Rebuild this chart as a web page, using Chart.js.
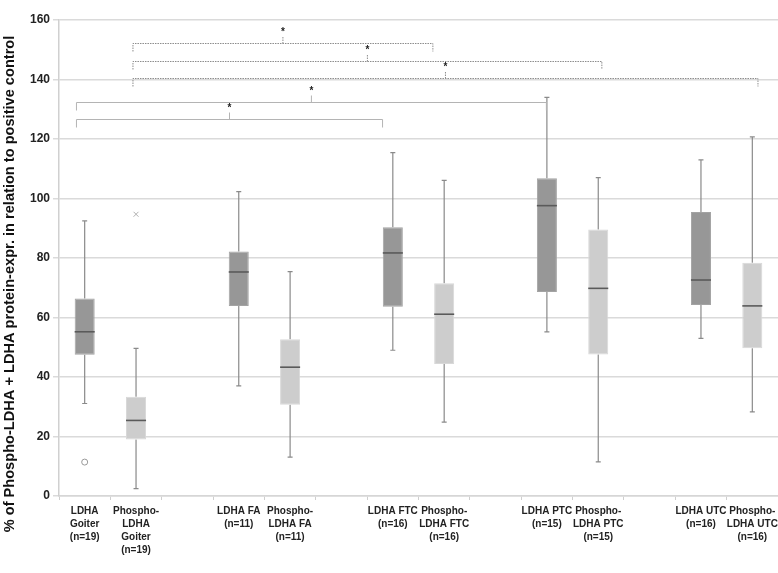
<!DOCTYPE html>
<html>
<head>
<meta charset="utf-8">
<script src="https://cdn.jsdelivr.net/npm/chart.js@4.4.1/dist/chart.umd.min.js"></script>
<style>
  html, body { margin: 0; padding: 0; background: #ffffff; }
  #wrap { width: 778px; height: 573px; }
</style>
</head>
<body>
<div id="wrap"><canvas id="c" width="778" height="573"></canvas></div>
<script>
// ---- data ----
const categories = [
  ["LDHA", "Goiter", "(n=19)"],
  ["Phospho-", "LDHA", "Goiter", "(n=19)"],
  "",
  ["LDHA FA", "(n=11)"],
  ["Phospho-", "LDHA FA", "(n=11)"],
  "",
  ["LDHA FTC", "(n=16)"],
  ["Phospho-", "LDHA FTC", "(n=16)"],
  "",
  ["LDHA PTC", "(n=15)"],
  ["Phospho-", "LDHA PTC", "(n=15)"],
  "",
  ["LDHA UTC", "(n=16)"],
  ["Phospho-", "LDHA UTC", "(n=16)"]
];
const isPhospho   = [false, true, null, false, true, null, false, true, null, false, true, null, false, true];
const whiskerLow  = [31.1, 2.5, null, 37.0, 13.1, null, 49.0, 24.8, null, 55.2, 11.5, null, 53.0, 28.3];
const q1          = [47.5, 19.0, null, 63.9, 30.7, null, 63.6, 44.4, null, 68.6, 47.6, null, 64.2, 49.7];
const median      = [55.2, 25.4, null, 75.3, 43.3, null, 81.7, 61.1, null, 97.6, 69.8, null, 72.6, 63.9];
const q3          = [66.4, 33.4, null, 82.2, 52.7, null, 90.3, 71.5, null, 106.8, 89.6, null, 95.5, 78.4];
const whiskerHigh = [92.5, 49.6, null, 102.3, 75.4, null, 115.4, 106.1, null, 134.0, 107.0, null, 113.0, 120.7];
const outlierCircle = [11.4, null, null, null, null, null, null, null, null, null, null, null, null, null];
const outlierCross  = [null, 94.7, null, null, null, null, null, null, null, null, null, null, null, null];
const yTicks = [0, 20, 40, 60, 80, 100, 120, 140, 160];
const yTitle = "% of Phospho-LDHA + LDHA protein-expr. in relation to positive control";

// significance brackets (category index from/to, y value)
const bracketFrom   = [0.94, 0.94, 0.94, -0.16, -0.16];
const bracketTo     = [6.78, 10.07, 13.11, 8.99, 5.80];
const bracketY      = [152.4, 146.3, 140.4, 132.3, 126.7];
const bracketDotted = [true, true, true, false, false];
const bracketLabel  = ["*", "*", "*", "*", "*"];

// ---- styles ----
const DARK = '#979797', LIGHT = '#cdcdcd';
const FONT = "'Liberation Sans', Arial, sans-serif";

const boxes = q1.map((v, i) => v == null ? null : [v, q3[i]]);

const boxPlugin = {
  id: 'boxparts',
  beforeDatasetsDraw(chart) {
    const ctx = chart.ctx, y = chart.scales.y;
    const meta = chart.getDatasetMeta(0);
    ctx.save();
    ctx.strokeStyle = '#8a8a8a';
    ctx.lineWidth = 1.2;
    meta.data.forEach((el, i) => {
      if (q1[i] == null) return;
      const x = el.x;
      const yl = y.getPixelForValue(whiskerLow[i]);
      const yh = y.getPixelForValue(whiskerHigh[i]);
      const y1 = y.getPixelForValue(q1[i]);
      const y3 = y.getPixelForValue(q3[i]);
      ctx.beginPath();
      ctx.moveTo(x, y3); ctx.lineTo(x, yh);
      ctx.moveTo(x, y1); ctx.lineTo(x, yl);
      ctx.moveTo(x - 2.5, yh); ctx.lineTo(x + 2.5, yh);
      ctx.moveTo(x - 2.5, yl); ctx.lineTo(x + 2.5, yl);
      ctx.stroke();
    });
    ctx.restore();
  },
  afterDatasetsDraw(chart) {
    const ctx = chart.ctx, y = chart.scales.y, x = chart.scales.x;
    const meta = chart.getDatasetMeta(0);
    ctx.save();
    ctx.strokeStyle = '#5a5a5a';
    ctx.lineWidth = 1.6;
    meta.data.forEach((el, i) => {
      if (median[i] == null) return;
      const ym = y.getPixelForValue(median[i]);
      const hw = el.width / 2;
      ctx.beginPath();
      ctx.moveTo(el.x - hw, ym); ctx.lineTo(el.x + hw, ym);
      ctx.stroke();
    });
    // brackets
    for (let b = 0; b < bracketY.length; b++) {
      const xa = x.getPixelForValue(bracketFrom[b]);
      const xb = x.getPixelForValue(bracketTo[b]);
      const yy = Math.round(y.getPixelForValue(bracketY[b])) + 0.5;
      const xm = (xa + xb) / 2;
      ctx.beginPath();
      if (bracketDotted[b]) {
        ctx.setLineDash([1.5, 1]);
        ctx.strokeStyle = '#8c8c8c';
      } else {
        ctx.setLineDash([]);
        ctx.strokeStyle = '#b4b4b4';
      }
      ctx.lineWidth = 1;
      ctx.moveTo(xa, yy + 8); ctx.lineTo(xa, yy); ctx.lineTo(xb, yy); ctx.lineTo(xb, yy + 8);
      ctx.moveTo(xm, yy); ctx.lineTo(xm, yy - 7);
      ctx.stroke();
      ctx.setLineDash([]);
      ctx.fillStyle = '#222';
      ctx.font = "bold 10px " + FONT;
      ctx.textAlign = 'center';
      ctx.textBaseline = 'alphabetic';
      ctx.fillText(bracketLabel[b], xm, yy - 14 + 5.5);
    }
    ctx.restore();
  },
  afterDraw(chart) {
    const ctx = chart.ctx;
    ctx.save();
    ctx.translate(9.5, 284);
    ctx.rotate(-Math.PI / 2);
    ctx.font = "bold 14.6px " + FONT;
    ctx.fillStyle = '#111';
    ctx.textAlign = 'center';
    ctx.textBaseline = 'middle';
    ctx.fillText(yTitle, 0, 0);
    ctx.restore();
  }
};

new Chart(document.getElementById('c'), {
  type: 'bar',
  data: {
    labels: categories,
    datasets: [
      {
        data: boxes,
        backgroundColor: isPhospho.map(p => p ? LIGHT : DARK),
        borderColor: isPhospho.map(p => p ? '#d8d8d8' : '#a3a3a3'),
        borderWidth: 1,
        borderSkipped: false,
        barPercentage: 0.39,
        categoryPercentage: 1,
        order: 2
      },
      {
        type: 'line',
        data: outlierCircle,
        showLine: false,
        pointStyle: 'circle',
        pointRadius: 3,
        borderColor: '#999999',
        backgroundColor: 'rgba(255,255,255,0)',
        pointBorderWidth: 1,
        order: 1
      },
      {
        type: 'line',
        data: outlierCross,
        showLine: false,
        pointStyle: 'crossRot',
        pointRadius: 3.5,
        borderColor: '#b0b0b0',
        pointBorderWidth: 1,
        order: 1
      }
    ]
  },
  options: {
    responsive: false,
    animation: false,
    events: [],
    layout: { autoPadding: false, padding: { top: 20, right: 0, left: 0, bottom: 0 } },
    plugins: { legend: { display: false }, tooltip: { enabled: false } },
    scales: {
      x: {
        offset: true,
        grid: { offset: true, drawOnChartArea: false, drawTicks: true, tickLength: 4, color: '#cfcfcf', lineWidth: 1 },
        border: { display: true, color: '#d6d6d6', width: 1.5 },
        ticks: {
          autoSkip: false, maxRotation: 0, minRotation: 0,
          color: '#222', padding: 5,
          font: { family: FONT, weight: 'bold', size: 10, lineHeight: 1.3 }
        },
        afterFit: s => { s.height = 77; s.paddingLeft = 0; s.paddingRight = 0; }
      },
      y: {
        min: 0, max: 160,
        afterBuildTicks: s => { s.ticks = yTicks.map(v => ({ value: v })); },
        ticks: { color: '#222', padding: 3, font: { family: FONT, weight: 'bold', size: 12 } },
        grid: { color: '#dadada', lineWidth: 1.5, tickLength: 6, drawTicks: true },
        border: { display: true, color: '#d0d0d0', width: 1.5 },
        title: { display: false },
        afterFit: s => { s.width = 59; s.paddingTop = 0; s.paddingBottom = 0; }
      }
    }
  },
  plugins: [boxPlugin]
});
</script>
</body>
</html>
